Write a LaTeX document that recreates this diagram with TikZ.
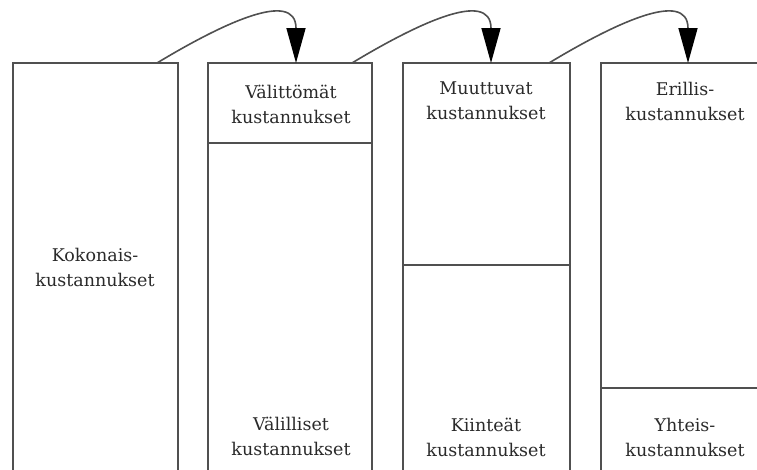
\documentclass[tikz,border=0pt]{standalone}
\usepackage{fontspec}
\setmainfont{DejaVu Serif}
\usetikzlibrary{arrows.meta}
\definecolor{edge}{HTML}{505050}
\definecolor{txt}{HTML}{2A2A2A}
\tikzset{
  box/.style={draw=edge, line width=1.6pt},
  lbl/.style={text=txt, align=center, font=\fontsize{17.5}{25}\selectfont, inner sep=0pt},
  flow/.style={draw=edge, line width=1.6pt, -{Triangle[length=35pt,width=19pt,color=black,fill=black]}}
}
\begin{document}
\begin{tikzpicture}[x=1pt,y=-1pt]
\useasboundingbox (0,0) rectangle (757,469);
\clip (0,0) rectangle (757,469);
% boxes
\draw[box] (13,480) -- (13,63) -- (178,63) -- (178,480);
\draw[box] (208,480) -- (208,63) -- (372,63) -- (372,480);
\draw[box] (208,143) -- (372,143);
\draw[box] (403,480) -- (403,63) -- (570,63) -- (570,480);
\draw[box] (403,265) -- (570,265);
\draw[box] (601,480) -- (601,63) -- (770,63);
\draw[box] (601,388) -- (770,388);
% connector end points
\coordinate (s1) at (157,63);
\coordinate (t1) at (296,63);
\coordinate (s2) at (352,63);
\coordinate (t2) at (491,63);
\coordinate (s3) at (549,63);
\coordinate (t3) at (688,63);
\draw[flow] (s1) .. controls (220,25) and (296,-12) .. (t1);
\draw[flow] (s2) .. controls (415,25) and (491,-12) .. (t2);
\draw[flow] (s3) .. controls (612,25) and (688,-12) .. (t3);
% labels
\node[lbl] (kok) at (95,267) {Kokonais-\\kustannukset};
\node[lbl] (val) at (291,104) {Välittömät\\kustannukset};
\node[lbl] (vall) at (291,436) {Välilliset\\kustannukset};
\node[lbl] (muu) at (486,101) {Muuttuvat\\kustannukset};
\node[lbl] (kii) at (486,437) {Kiinteät\\kustannukset};
\node[lbl] (eri) at (685,101) {Erillis-\\kustannukset};
\node[lbl] (yht) at (685,437) {Yhteis-\\kustannukset};
\end{tikzpicture}
\end{document}
